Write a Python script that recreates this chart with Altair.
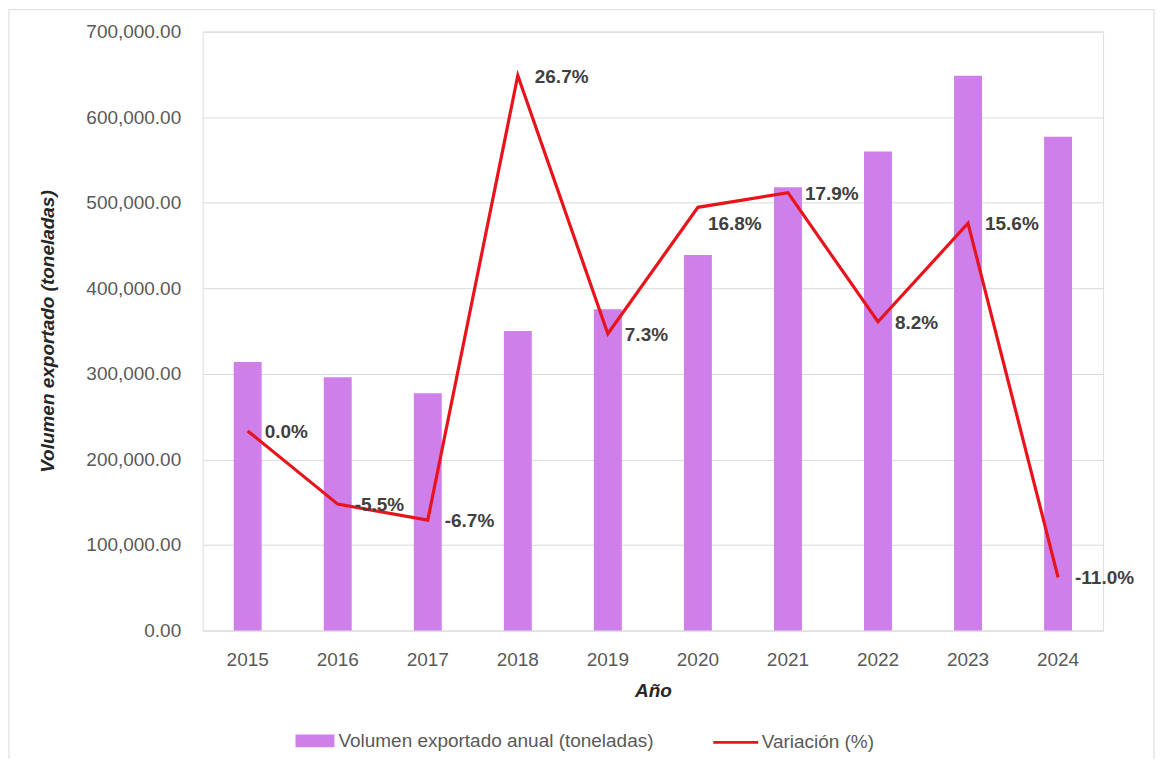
import altair as alt
import pandas as pd

years = ["2015", "2016", "2017", "2018", "2019", "2020", "2021", "2022", "2023", "2024"]
volumen = [314000, 296000, 277500, 350000, 375500, 439000, 518000, 560000, 648500, 577000]
variacion = [0.0, -5.5, -6.7, 26.7, 7.3, 16.8, 17.9, 8.2, 15.6, -11.0]
y_ticks = [0, 100000, 200000, 300000, 400000, 500000, 600000, 700000]

BAR_NAME = "Volumen exportado anual (toneladas)"
LINE_NAME = "Variación (%)"
FONT = "Liberation Sans"
GRAY = "#595959"
BAR_COLOR = "#CF7FEA"
LINE_COLOR = "#E8141C"

df = pd.DataFrame({"year": years, "volumen": volumen, "variacion": variacion})

x_enc = alt.X(
    "year:N",
    sort=years,
    scale=alt.Scale(paddingInner=0, paddingOuter=0),
    axis=alt.Axis(
        title="Año", labelAngle=0, ticks=False, tickSize=0, domain=False,
        labelFontSize=19, labelColor=GRAY, labelFont=FONT, labelPadding=20,
        titleFont=FONT, titleFontSize=19, titleFontWeight="bold", titleFontStyle="italic",
        titleColor="#262626", titleY=60, titleBaseline="middle", grid=False,
    ),
)

bars = alt.Chart(df).mark_bar(size=28).encode(
    x=x_enc,
    y=alt.Y(
        "volumen:Q",
        scale=alt.Scale(domain=[0, 700000], nice=False),
        axis=alt.Axis(
            title="Volumen exportado (toneladas)", values=y_ticks, format=",.2f",
            ticks=False, tickSize=0, domain=False, labelPadding=22,
            labelFontSize=19, labelColor=GRAY, labelFont=FONT,
            gridColor="#d9d9d9", gridWidth=1,
            titleFont=FONT, titleFontSize=19, titleFontWeight="bold", titleFontStyle="italic",
            titleColor="#262626", titleX=-155, titleY=300, titleAlign="center",
            titleBaseline="middle", titleAngle=-90,
        ),
    ),
    color=alt.Color(
        "s:N",
        scale=alt.Scale(domain=[BAR_NAME], range=[BAR_COLOR]),
        legend=alt.Legend(
            title=None, orient="none", legendX=93, legendY=691, padding=0,
            symbolType="M-1,-0.3333H1V0.3333H-1Z", symbolSize=1521, symbolOpacity=1,
            symbolStrokeWidth=0, labelLimit=0,
            labelFont=FONT, labelFontSize=19, labelColor=GRAY, labelOffset=4,
        ),
    ),
).transform_calculate(s=f"'{BAR_NAME}'")

y2 = alt.Y("variacion:Q", scale=alt.Scale(domain=[-15, 30], nice=False), axis=None)

line = alt.Chart(df).mark_line(strokeWidth=3.2, strokeJoin="miter").encode(
    x=alt.X("year:N", sort=years),
    y=y2,
    stroke=alt.Stroke(
        "s:N",
        scale=alt.Scale(domain=[LINE_NAME], range=[LINE_COLOR]),
        legend=alt.Legend(
            title=None, orient="none", legendX=510, legendY=688, padding=0,
            symbolType="stroke", symbolSize=2025, symbolStrokeWidth=3,
            labelLimit=0,
            labelFont=FONT, labelFontSize=19, labelColor=GRAY, labelOffset=2,
        ),
    ),
).transform_calculate(s=f"'{LINE_NAME}'")

label_base = alt.Chart(df).transform_calculate(
    lab="(datum.variacion < 0 ? '-' : '') + format(abs(datum.variacion), '.1f') + '%'"
)
labels_main = label_base.transform_filter("datum.year != '2020'").mark_text(
    align="left", baseline="middle", dx=17, dy=1, font=FONT, fontSize=19,
    fontWeight="bold", color="#404040",
).encode(x=alt.X("year:N", sort=years), y=y2, text="lab:N")
labels_2020 = label_base.transform_filter("datum.year == '2020'").mark_text(
    align="left", baseline="middle", dx=10, dy=17, font=FONT, fontSize=19,
    fontWeight="bold", color="#404040",
).encode(x=alt.X("year:N", sort=years), y=y2, text="lab:N")

frame = alt.Chart(pd.DataFrame({"k": [0]})).mark_rect(
    filled=False, stroke="#d9d9d9", strokeWidth=1
).encode(
    x=alt.value(-194), x2=alt.value(953), y=alt.value(-22), y2=alt.value(740)
)

chart = alt.layer(
    frame, bars, line, labels_main, labels_2020
).resolve_scale(y="independent", color="independent", stroke="independent").properties(
    width=902, height=600,
    padding={"left": 195, "top": 23, "right": 54, "bottom": 128},
    autosize=alt.AutoSizeParams(type="none"),
).configure_view(stroke=None).configure(background="white")

chart.save("out.html", embed_options={"renderer": "svg", "actions": False})
